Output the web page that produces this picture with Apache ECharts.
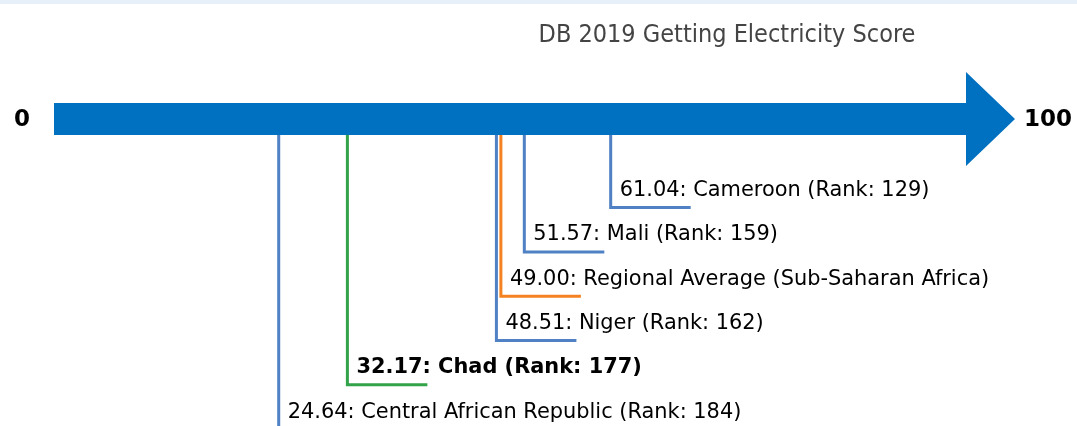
<!DOCTYPE html>
<html>
<head>
<meta charset="utf-8">
<title>DB 2019 Getting Electricity Score</title>
<script src="https://cdn.jsdelivr.net/npm/echarts@6/dist/echarts.min.js"></script>
<style>
  html, body { margin: 0; padding: 0; background: #fff; }
  .top-strip { position: absolute; left: 0; top: 0; width: 1077px; height: 4px; background: #e5f0fa; z-index: 2; }
  #chart { width: 1077px; height: 426px; }
</style>
</head>
<body>
<div class="top-strip"></div>
<div id="chart"></div>
<script>
// scores ordered top to bottom as they are listed under the arrow
const names = ['Cameroon', 'Mali', 'Regional Average (Sub-Saharan Africa)', 'Niger', 'Chad', 'Central African Republic'];
const scores = [61.04, 51.57, 49.00, 48.51, 32.17, 24.64];
const ranks = [129, 159, null, 162, 177, 184];
const scaleMin = 0;
const scaleMax = 100;

const focusName = 'Chad';
const regionalName = 'Regional Average (Sub-Saharan Africa)';

const BLUE = '#0070c0';
const LINE_BLUE = '#4f81c4';
const ORANGE = '#f58220';
const GREEN = '#33a34a';
const FONT = '"DejaVu Sans", Verdana, sans-serif';

const bodyHalf = 16;   // arrow shaft half thickness, px
const headHalf = 47;   // arrow head half height, px
const headLen = 49;    // arrow head length, px
const tailLen = 80;    // horizontal leader length, px

const colorFor = (name) => {
  if (name === focusName) return GREEN;
  if (name === regionalName) return ORANGE;
  return LINE_BLUE;
};

const labelFor = (i) => {
  let s = scores[i].toFixed(2) + ': ' + names[i];
  if (ranks[i] != null) s += ' (Rank: ' + ranks[i] + ')';
  return s;
};

const leaderData = scores.map((v, i) => [v, i + 2, i]);

const chart = echarts.init(document.getElementById('chart'), null, { renderer: 'canvas' });

chart.setOption({
  animation: false,
  graphic: [
    {
      type: 'text',
      x: 727,
      y: 35.5,
      style: {
        text: 'DB 2019 Getting Electricity Score',
        fill: '#444',
        font: '25px "DejaVu Sans Condensed", "DejaVu Sans", sans-serif',
        align: 'center',
        verticalAlign: 'middle',
      },
    },
  ],
  grid: { left: 54, right: 111, top: 0, bottom: 0 },
  xAxis: { type: 'value', min: scaleMin, max: scaleMax, show: false },
  yAxis: { type: 'value', min: -2.686, max: 6.93, inverse: true, show: false },
  series: [
    {
      name: 'Arrow',
      type: 'custom',
      silent: true,
      z: 1,
      data: [[scaleMin, scaleMax]],
      renderItem: (params, api) => {
        const s = api.coord([api.value(0), 0]);
        const e = api.coord([api.value(1), 0]);
        const y = s[1];
        return {
          type: 'group',
          children: [
            {
              type: 'polygon',
              shape: {
                points: [
                  [s[0], y - bodyHalf], [e[0], y - bodyHalf], [e[0], y - headHalf],
                  [e[0] + headLen, y], [e[0], y + headHalf], [e[0], y + bodyHalf],
                  [s[0], y + bodyHalf],
                ],
              },
              style: { fill: BLUE },
            },
            {
              type: 'text',
              x: s[0] - 32,
              y: y + 1,
              style: {
                text: String(scaleMin), fill: '#000', font: 'bold 23px ' + FONT,
                align: 'center', verticalAlign: 'middle',
              },
            },
            {
              type: 'text',
              x: e[0] + headLen + 9,
              y: y + 1,
              style: {
                text: String(scaleMax), fill: '#000', font: 'bold 23px ' + FONT,
                align: 'left', verticalAlign: 'middle',
              },
            },
          ],
        };
      },
    },
    {
      name: 'Scores',
      type: 'custom',
      silent: true,
      z: 2,
      clip: false,
      data: leaderData,
      renderItem: (params, api) => {
        const idx = api.value(2);
        const top = api.coord([api.value(0), 0]);
        const bot = api.coord([api.value(0), api.value(1)]);
        const x = top[0];
        const color = colorFor(names[idx]);
        const bold = names[idx] === focusName;
        return {
          type: 'group',
          children: [
            {
              type: 'polyline',
              shape: { points: [[x, top[1] + bodyHalf], [x, bot[1]], [x + tailLen, bot[1]]] },
              style: { stroke: color, lineWidth: 3, fill: null },
            },
            {
              type: 'text',
              x: x + 9,
              y: bot[1] - 17,
              style: {
                text: labelFor(idx), fill: '#000',
                font: (bold ? 'bold ' : '') + '20.9px ' + FONT,
                align: 'left', verticalAlign: 'middle',
              },
            },
          ],
        };
      },
    },
  ],
});

window.addEventListener('resize', () => chart.resize());
</script>
</body>
</html>
